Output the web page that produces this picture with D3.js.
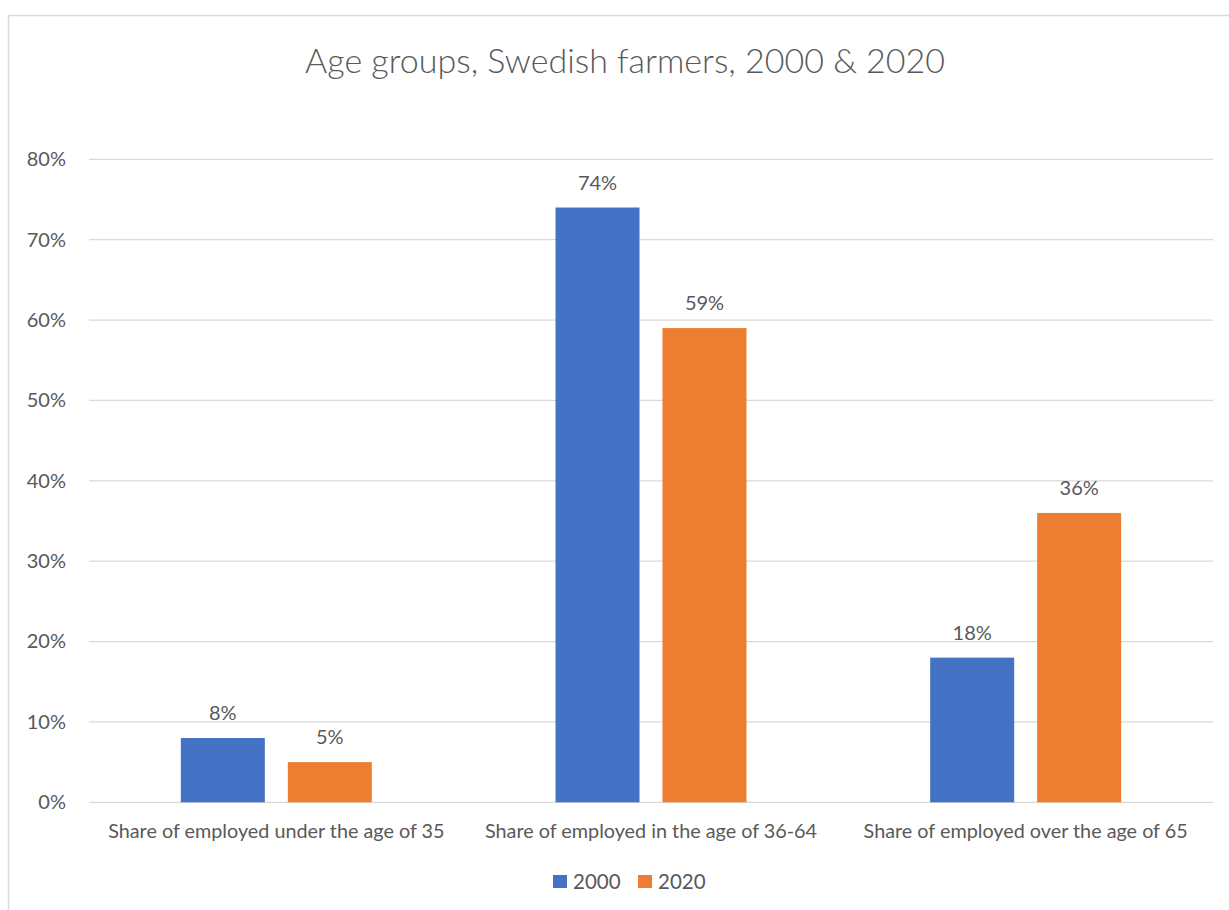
<!DOCTYPE html>
<html><head><meta charset="utf-8">
<script src="https://cdn.jsdelivr.net/npm/d3@7"></script>
<style>body{margin:0;background:#fff}svg{display:block}text{font-family:Lato,"Open Sans",sans-serif;fill:#595959}</style>
</head><body>
<script>
const categories = ["Share of employed under the age of 35","Share of employed in the age of 36-64","Share of employed over the age of 65"];
const seriesNames = ["2000","2020"];
const values2000 = [8, 74, 18];
const values2020 = [5, 59, 36];
const yTicks = [0,10,20,30,40,50,60,70,80];
const colors = ["#4472C4","#ED7D31"];
const titleText = "Age groups, Swedish farmers, 2000 & 2020";

(function(){
const W=1229,H=910;
const svg=d3.select("body").append("svg").attr("width",W).attr("height",H);
svg.append("rect").attr("width",W).attr("height",H).attr("fill","#fff");
svg.append("rect").attr("x",8.5).attr("y",15.5).attr("width",W+20).attr("height",H+20)
  .attr("fill","none").attr("stroke","#D9D9D9").attr("stroke-width",1.5);

const pL=89,pR=1213,pT=159.3,pB=802.3;
const x0=d3.scaleBand().domain(categories).range([pL,pR]).padding(0);
const y=d3.scaleLinear().domain([0,80]).range([pB,pT]);
const step=x0.bandwidth();
const bw=step*84/374.7, gap=step*23/374.7;

svg.append("g").selectAll("line").data(yTicks).join("line")
  .attr("x1",pL).attr("x2",pR).attr("y1",d=>y(d)).attr("y2",d=>y(d))
  .attr("stroke","#D9D9D9").attr("stroke-width",1.3);

const yAxis=d3.axisLeft(y).tickValues(yTicks).tickFormat(d=>d+"%").tickSize(0).tickPadding(0);
const gy=svg.append("g").attr("transform",`translate(66,0)`).call(yAxis);
gy.select(".domain").remove();
gy.selectAll("text").attr("font-size",20).attr("font-family","Lato").attr("fill","#595959");

const xAxis=d3.axisBottom(x0).tickSize(0).tickPadding(0);
const gx=svg.append("g").attr("transform",`translate(0,${pB})`).call(xAxis);
gx.select(".domain").remove();
gx.selectAll("text").attr("font-size",19.8).attr("font-family","Lato").attr("fill","#595959").attr("dy",0).attr("y",36);

const data=[values2000,values2020];
data.forEach((vals,si)=>{
  const g=svg.append("g");
  const xs=(c)=>x0(c)+step/2+(si===0?-(gap/2+bw):gap/2);
  g.selectAll("rect").data(categories).join("rect")
    .attr("x",(c)=>xs(c)).attr("width",bw)
    .attr("y",(c,i)=>y(vals[i])).attr("height",(c,i)=>pB-y(vals[i]))
    .attr("fill",colors[si]);
  g.selectAll("text").data(categories).join("text")
    .attr("x",(c)=>xs(c)+bw/2).attr("y",(c,i)=>y(vals[i])-18)
    .attr("text-anchor","middle").attr("font-size",20).text((c,i)=>vals[i]+"%");
});

svg.append("text").attr("x",625).attr("y",73).attr("text-anchor","middle")
  .attr("font-size",34).attr("font-weight",300).text(titleText);

const legX=[553,638];
seriesNames.forEach((s,i)=>{
  svg.append("rect").attr("x",legX[i]).attr("y",875).attr("width",14).attr("height",13).attr("fill",colors[i]);
  svg.append("text").attr("x",legX[i]+20).attr("y",889).attr("font-size",20.5).text(s);
});
})();
</script>
</body></html>
